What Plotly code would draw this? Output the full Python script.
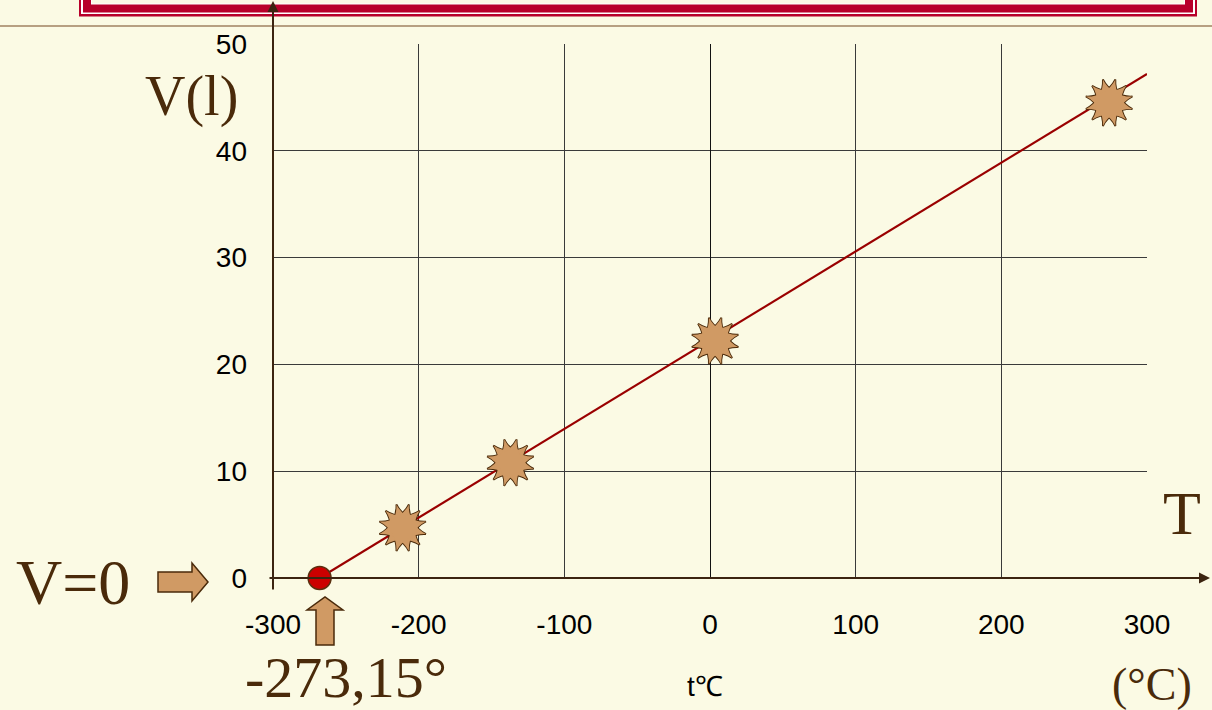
import plotly.graph_objects as go

# ---- data ----
line_t = [-268, 300]
line_v = [0, 47.2]
pts_t = [-211, -137, 3.5, 274]
pts_v = [4.7, 10.8, 22.2, 44.5]
zero_t = [-268]
zero_v = [0]
x_ticks = [-300, -200, -100, 0, 100, 200, 300]
y_ticks = [0, 10, 20, 30, 40, 50]

W, H = 1212, 710
L, R, T, B = 273, 65, 44, 132
PW, PH = W - L - R, H - T - B

def px(x):
    return (x - L) / PW

def py(y):
    return (H - B - y) / PH

BG = "#FBFAE4"
BROWN = "#4A2A0A"
TAN = "#D09A64"
RED = "#B8002A"

fig = go.Figure()

fig.add_trace(go.Scatter(x=line_t, y=line_v, mode="lines",
                         line=dict(color="#9A0000", width=2.2),
                         hoverinfo="skip", showlegend=False))

# burst markers: overlay rotated star-squares
angles = [0, 30, 60]
for a in angles:
    fig.add_trace(go.Scatter(x=pts_t, y=pts_v, mode="markers", cliponaxis=False,
                             marker=dict(symbol="star-square", size=31, angle=a, color=TAN,
                                         line=dict(color=BROWN, width=1.8)),
                             showlegend=False, hoverinfo="skip"))
for a in angles:
    fig.add_trace(go.Scatter(x=pts_t, y=pts_v, mode="markers", cliponaxis=False,
                             marker=dict(symbol="star-square", size=31, angle=a, color=TAN,
                                         line=dict(width=0)),
                             showlegend=False, hoverinfo="skip"))

fig.add_trace(go.Scatter(x=zero_t, y=zero_v, mode="markers", cliponaxis=False,
                         marker=dict(symbol="circle", size=23, color="#CC0000",
                                     line=dict(color="#5A3010", width=1.5)),
                         showlegend=False, hoverinfo="skip"))

shapes = []

def rect(x0, y0, x1, y1, fill):
    shapes.append(dict(type="rect", xref="paper", yref="paper",
                       x0=px(x0), x1=px(x1), y0=py(y1), y1=py(y0),
                       fillcolor=fill, line=dict(width=0), layer="above"))

# top red frame
rect(79, -20, 1197, 16.5, RED)
rect(81, -20, 1195, 14, "#FFFFFF")
rect(83, -20, 1193, 12.5, RED)
rect(91, -20, 1185, 4.5, "#FFFFFF")
rect(92, -20, 1184, 3.5, BG)

# horizontal rule
shapes.append(dict(type="line", xref="paper", yref="paper",
                   x0=px(0), x1=px(W), y0=py(26), y1=py(26),
                   line=dict(color="#A08262", width=1.5)))

def path(points):
    s = "M " + " L ".join(f"{px(a):.5f},{py(b):.5f}" for a, b in points) + " Z"
    return s

# right block arrow
shapes.append(dict(type="path", xref="paper", yref="paper",
                   path=path([(158, 572), (192, 572), (192, 563), (208, 582),
                              (192, 601), (192, 592), (158, 592)]),
                   fillcolor=TAN, line=dict(color=BROWN, width=1.5)))
# up block arrow
shapes.append(dict(type="path", xref="paper", yref="paper",
                   path=path([(316, 645), (316, 610), (307, 610), (325, 597),
                              (343, 610), (334, 610), (334, 645)]),
                   fillcolor=TAN, line=dict(color=BROWN, width=1.5)))

serif = "Liberation Serif, Times New Roman, serif"
sans = "Liberation Sans, Arial, sans-serif"

ann = []
def label(text, x, y, size, family=serif, color=BROWN):
    ann.append(dict(text=text, xref="paper", yref="paper", x=px(x), y=py(y),
                    xanchor="center", yanchor="middle", showarrow=False,
                    font=dict(family=family, size=size, color=color)))

label("V(l)", 191, 96, 56)
label("T", 1182, 513, 62)
label("(°C)", 1152, 684, 46)
label("V=0", 73, 582, 64)
label("-273,15°", 346, 677, 58)
label("t℃", 705, 686, 28, family=sans, color="#000000")

# axis arrows
ann.append(dict(text="", xref="paper", yref="paper", x=px(273), y=py(1),
                ax=0, ay=590, axref="pixel", ayref="pixel", showarrow=True,
                arrowhead=2, arrowsize=1.1, arrowwidth=2, arrowcolor="#3C2410"))
ann.append(dict(text="", xref="paper", yref="paper", x=px(1210), y=py(578),
                ax=-942, ay=0, axref="pixel", ayref="pixel", showarrow=True,
                arrowhead=2, arrowsize=1.1, arrowwidth=2, arrowcolor="#3C2410"))

fig.update_layout(
    width=W, height=H, autosize=False,
    margin=dict(l=L, r=R, t=T, b=B, pad=0),
    paper_bgcolor=BG, plot_bgcolor=BG,
    showlegend=False,
    shapes=shapes, annotations=ann,
    font=dict(family=sans, size=28, color="#000000"),
)
fig.update_xaxes(range=[-300, 300], tickvals=x_ticks, ticktext=[str(v) for v in x_ticks],
                 showgrid=True, gridcolor="#3A3A3A", gridwidth=1,
                 zeroline=True, zerolinecolor="#111111", zerolinewidth=1.2,
                 showline=False, ticks="", ticklabelstandoff=27,
                 tickfont=dict(family=sans, size=28, color="#000000"))
fig.update_yaxes(range=[0, 50], tickvals=y_ticks, ticktext=[str(v) for v in y_ticks],
                 showgrid=True, gridcolor="#3A3A3A", gridwidth=1,
                 zeroline=False, showline=False, ticks="", ticklabelstandoff=25,
                 tickfont=dict(family=sans, size=28, color="#000000"))

fig.write_html("out.html", config={"displayModeBar": False},
               post_script="document.body.style.margin='0';document.body.style.overflow='hidden';document.body.style.background='" + BG + "';")
